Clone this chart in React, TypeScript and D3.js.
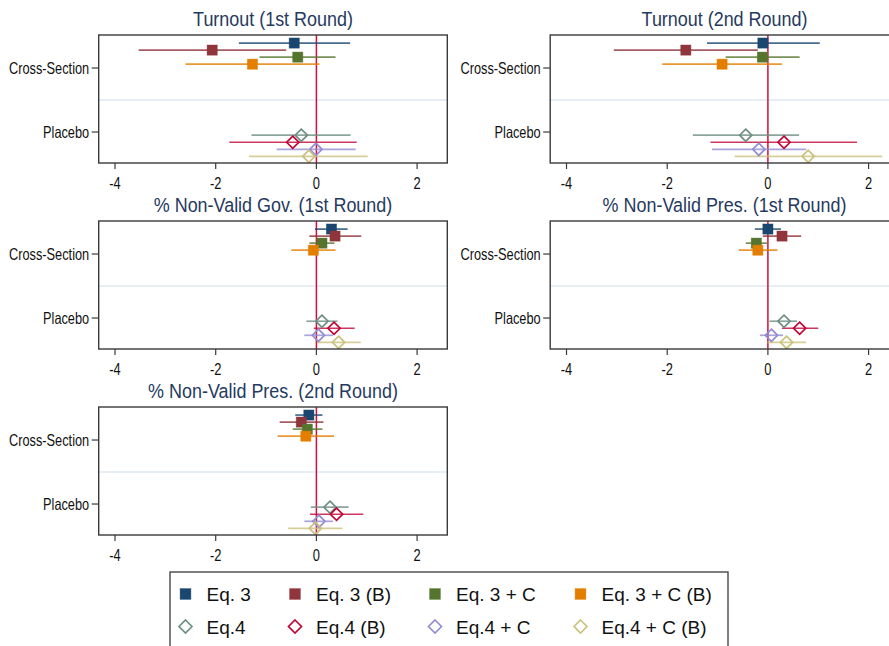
import React from "react";
import * as d3 from "d3";

// ---------- data ----------
const categories = ["Cross-Section", "Placebo"];
const seriesNames = [
  "Eq. 3", "Eq. 3 (B)", "Eq. 3 + C", "Eq. 3 + C (B)",
  "Eq.4", "Eq.4 (B)", "Eq.4 + C", "Eq.4 + C (B)",
];
const seriesCategory = [0, 0, 0, 0, 1, 1, 1, 1];
const seriesColors = ["#1a476f", "#90353b", "#55752f", "#e37e00", "#6e8e84", "#c10534", "#938dd2", "#cac27e"];
const seriesHollow = [false, false, false, false, true, true, true, true];
const xTicks = [-4, -2, 0, 2];

const panelTitles = [
  "Turnout (1st Round)",
  "Turnout (2nd Round)",
  "% Non-Valid Gov. (1st Round)",
  "% Non-Valid Pres. (1st Round)",
  "% Non-Valid Pres. (2nd Round)",
];

const turnout1Est = [-0.44, -2.07, -0.37, -1.27, -0.30, -0.47, -0.01, -0.15];
const turnout1Lo = [-1.54, -3.53, -1.13, -2.60, -1.29, -1.73, -0.79, -1.34];
const turnout1Hi = [0.67, -0.60, 0.38, 0.06, 0.68, 0.80, 0.78, 1.02];

const turnout2Est = [-0.10, -1.63, -0.11, -0.91, -0.44, 0.32, -0.18, 0.80];
const turnout2Lo = [-1.21, -3.06, -0.84, -2.10, -1.49, -1.14, -1.11, -0.66];
const turnout2Hi = [1.03, -0.20, 0.63, 0.28, 0.62, 1.77, 0.76, 2.27];

const nvGov1Est = [0.30, 0.37, 0.11, -0.06, 0.11, 0.35, 0.04, 0.44];
const nvGov1Lo = [-0.03, -0.14, -0.14, -0.50, -0.20, -0.05, -0.24, 0.01];
const nvGov1Hi = [0.62, 0.89, 0.36, 0.38, 0.42, 0.76, 0.33, 0.88];

const nvPres1Est = [0.00, 0.28, -0.23, -0.20, 0.32, 0.63, 0.07, 0.37];
const nvPres1Lo = [-0.26, -0.10, -0.44, -0.58, 0.03, 0.28, -0.16, -0.01];
const nvPres1Hi = [0.26, 0.66, -0.02, 0.19, 0.58, 1.00, 0.30, 0.76];

const nvPres2Est = [-0.15, -0.30, -0.18, -0.21, 0.27, 0.40, 0.05, -0.02];
const nvPres2Lo = [-0.42, -0.73, -0.47, -0.77, -0.11, -0.13, -0.24, -0.56];
const nvPres2Hi = [0.12, 0.14, 0.12, 0.35, 0.64, 0.93, 0.33, 0.52];

const panelEst = [turnout1Est, turnout2Est, nvGov1Est, nvPres1Est, nvPres2Est];
const panelLo = [turnout1Lo, turnout2Lo, nvGov1Lo, nvPres1Lo, nvPres2Lo];
const panelHi = [turnout1Hi, turnout2Hi, nvGov1Hi, nvPres1Hi, nvPres2Hi];

// ---------- layout ----------
const W = 889;
const H = 646;
const PW = 348.6;
const PH = 128;
const panelX = [98.7, 550.2, 98.7, 550.2, 98.7];
const panelY = [35, 35, 221, 221, 407];
const FONT = "'Liberation Sans', Arial, Helvetica, sans-serif";
const TITLE_COLOR = "#253a5e";
const FRAME = "#3a3a3a";

const seriesOffset = (i: number) => -0.39 + 0.11 * i;

function Marker({ x, y, i, s }: { x: number; y: number; i: number; s: number }) {
  const c = seriesColors[i];
  if (seriesHollow[i]) {
    const r = s * 0.6;
    const pts = `${x},${y - r} ${x + r},${y} ${x},${y + r} ${x - r},${y}`;
    return <polygon points={pts} fill="white" fillOpacity={0} stroke={c} strokeWidth={1.7} />;
  }
  return <rect x={x - s / 2} y={y - s / 2} width={s} height={s} fill={c} stroke={c} strokeOpacity={0.5} strokeWidth={0.8} />;
}

function Panel({ k }: { k: number }) {
  const ox = panelX[k];
  const oy = panelY[k];
  const x = d3.scaleLinear().domain([-4.324, 2.6]).range([0, PW]);
  const y = d3.scaleLinear().domain([0.484, 2.484]).range([0, PH]);
  const est = panelEst[k];
  const lo = panelLo[k];
  const hi = panelHi[k];
  return (
    <g transform={`translate(${ox},${oy})`}>
      <text
        transform={`translate(${PW / 2},${-9}) scale(0.875,1)`}
        textAnchor="middle"
        fontFamily={FONT}
        fontSize={20.5}
        fill={TITLE_COLOR}
      >
        {panelTitles[k]}
      </text>
      {/* separator */}
      <line x1={0} x2={PW} y1={y(1.5)} y2={y(1.5)} stroke="#e6edf3" strokeWidth={2} />
      {/* zero line */}
      <line x1={x(0)} x2={x(0)} y1={0} y2={PH} stroke="#d0103a" strokeWidth={1.5} />
      {/* CIs */}
      {est.map((e, i) => {
        const yy = y(seriesCategory[i] + 1 + seriesOffset(i));
        return (
          <line key={"ci" + i} x1={x(lo[i])} x2={x(hi[i])} y1={yy} y2={yy}
            stroke={seriesColors[i]} strokeWidth={1.7} strokeOpacity={0.8} />
        );
      })}
      {est.map((e, i) => {
        const yy = y(seriesCategory[i] + 1 + seriesOffset(i));
        return <Marker key={"m" + i} x={x(e)} y={yy} i={i} s={10.2} />;
      })}
      {/* frame */}
      <rect x={0} y={0} width={PW} height={PH} fill="none" stroke={FRAME} strokeWidth={1.4} />
      {/* y axis ticks */}
      {categories.map((c, j) => (
        <g key={c}>
          <line x1={-7} x2={0} y1={y(j + 1)} y2={y(j + 1)} stroke={FRAME} strokeWidth={1.2} />
          <text
            transform={`translate(${-9.5},${y(j + 1) + 6.2}) scale(0.775,1)`}
            textAnchor="end"
            fontFamily={FONT}
            fontSize={16.5}
            fill="#111"
          >
            {c}
          </text>
        </g>
      ))}
      {/* x axis ticks */}
      {xTicks.map((t) => (
        <g key={t}>
          <line x1={x(t)} x2={x(t)} y1={PH} y2={PH + 6} stroke={FRAME} strokeWidth={1.2} />
          <text
            transform={`translate(${x(t)},${PH + 26}) scale(0.78,1)`}
            textAnchor="middle"
            fontFamily={FONT}
            fontSize={16.5}
            fill="#111"
          >
            {t < 0 ? "-" + Math.abs(t) : String(t)}
          </text>
        </g>
      ))}
    </g>
  );
}

function Legend() {
  const colX = [185.5, 295, 435, 580.5];
  const rowY = [594, 626.5];
  return (
    <g>
      <rect x={170} y={572} width={558} height={100} fill="white" stroke={FRAME} strokeWidth={1.3} />
      {seriesNames.map((n, i) => {
        const cx = colX[i % 4];
        const cy = rowY[Math.floor(i / 4)];
        return (
          <g key={n}>
            <Marker x={cx} y={cy} i={i} s={10.8} />
            <text
              x={cx + 21}
              y={cy + 7}
              fontFamily={FONT}
              fontSize={19}
              fill="#111"
            >
              {n}
            </text>
          </g>
        );
      })}
    </g>
  );
}

export default function App() {
  return (
    <svg
      width={W}
      height={H}
      viewBox={`0 0 ${W} ${H}`}
      style={{ position: "absolute", left: 0, top: 0, background: "white", overflow: "hidden" }}
    >
      <rect x={0} y={0} width={W} height={H} fill="white" />
      {panelTitles.map((_, k) => (
        <Panel key={k} k={k} />
      ))}
      <Legend />
    </svg>
  );
}
